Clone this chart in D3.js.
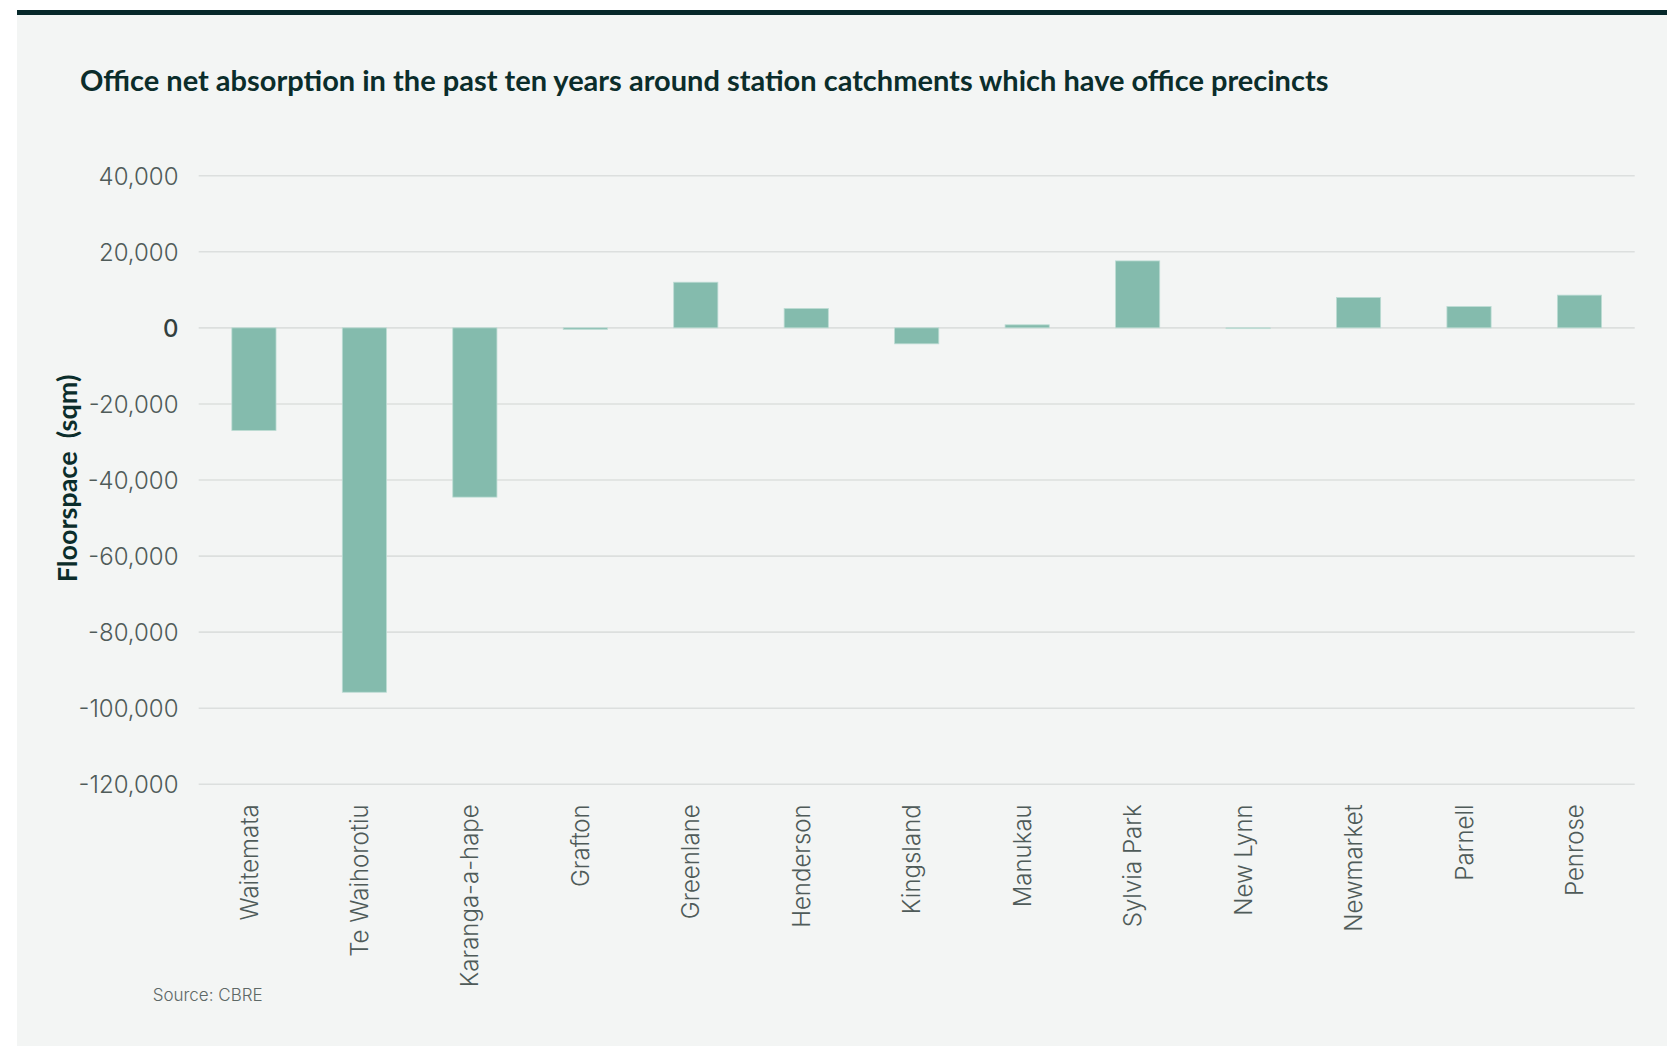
<!DOCTYPE html>
<html>
<head>
<meta charset="utf-8">
<script src="https://cdn.jsdelivr.net/npm/d3@7"></script>
<style>
  html, body { margin: 0; padding: 0; background: #ffffff; }
  svg { display: block; }
</style>
</head>
<body>
<svg id="chart" width="1667" height="1046"></svg>
<script>
// Station catchments and their ten-year office net absorption (sqm)
const stations = ["Waitemata", "Te Waihorotiu", "Karanga-a-hape", "Grafton", "Greenlane",
  "Henderson", "Kingsland", "Manukau", "Sylvia Park", "New Lynn", "Newmarket", "Parnell", "Penrose"];
const absorption = [-27000, -95800, -44500, -400, 12000, 5100, -4200, 800, 17600, -200, 8000, 5600, 8600];
const yTicks = [40000, 20000, 0, -20000, -40000, -60000, -80000, -100000, -120000];

const title = "Office net absorption in the past ten years around station catchments which have office precincts";
const yTitle = "Floorspace  (sqm)";
const source = "Source: CBRE";

const W = 1667, H = 1046;
const svg = d3.select("#chart");

// panel background and top rule
svg.append("rect").attr("x", 17).attr("y", 10).attr("width", W - 17).attr("height", H - 10)
  .attr("fill", "#f3f5f4");
svg.append("rect").attr("x", 17).attr("y", 10).attr("width", W - 17).attr("height", 5)
  .attr("fill", "#06282a");

const plot = { left: 198.7, right: 1634.7, top: 175.7, bottom: 784.3 };

const x = d3.scaleBand().domain(stations).range([plot.left, plot.right])
  .paddingInner(0.6).paddingOuter(0.3);
const y = d3.scaleLinear().domain([-120000, 40000]).range([plot.bottom, plot.top]);

// gridlines
svg.append("g").selectAll("line").data(yTicks).join("line")
  .attr("x1", plot.left).attr("x2", plot.right)
  .attr("y1", d => y(d)).attr("y2", d => y(d))
  .attr("stroke", "#dcdfde").attr("stroke-width", 1.6);

// y axis labels (plain hyphen for negatives)
const fmt = d3.format(",");
const yAxis = d3.axisLeft(y).tickValues(yTicks).tickSize(0).tickPadding(0)
  .tickFormat(d => fmt(d).replace("\u2212", "-"));
const gy = svg.append("g").attr("transform", `translate(178.5,0)`).call(yAxis);
gy.select(".domain").remove();
gy.selectAll("text")
  .attr("font-family", "Inter, 'Open Sans', sans-serif")
  .attr("font-size", 24)
  .attr("font-weight", d => d === 0 ? 500 : 300)
  .attr("fill", d => d === 0 ? "#33403e" : "#4f5b59")
  .attr("dy", "0.36em");

// bars
svg.append("g").selectAll("rect").data(stations).join("rect")
  .attr("x", d => x(d))
  .attr("width", x.bandwidth())
  .attr("y", (d, i) => y(Math.max(0, absorption[i])))
  .attr("height", (d, i) => Math.max(0.8, Math.abs(y(absorption[i]) - y(0))))
  .attr("fill", "#84bbad")
  .attr("stroke", "#bddcd4")
  .attr("stroke-width", 0.8);

// x axis labels, rotated
const xAxis = d3.axisBottom(x).tickSize(0).tickPadding(0);
const gx = svg.append("g").attr("transform", `translate(0,${plot.bottom + 20})`).call(xAxis);
gx.select(".domain").remove();
gx.selectAll("text")
  .attr("font-family", "Inter, 'Open Sans', sans-serif")
  .attr("font-size", 24)
  .attr("font-weight", 300)
  .attr("fill", "#4f5b59")
  .attr("text-anchor", "end")
  .attr("transform", "rotate(-90)")
  .attr("x", 0).attr("y", 0).attr("dy", "0.15em");

// y axis title
svg.append("text")
  .attr("transform", "translate(67,478.5) rotate(-90)")
  .attr("text-anchor", "middle")
  .attr("dy", "0.36em")
  .attr("font-family", "Lato, 'Noto Sans', sans-serif")
  .attr("font-weight", 700)
  .attr("font-size", 27)
  .attr("fill", "#0b2d2b")
  .style("white-space", "pre")
  .text(yTitle);

// chart title, sized to its line width
const t = svg.append("text")
  .attr("x", 80).attr("y", 91)
  .attr("font-family", "Lato, 'Noto Sans', sans-serif")
  .attr("font-weight", 700)
  .attr("font-size", 25)
  .attr("fill", "#0b2d2b")
  .text(title);
const tw = t.node().getComputedTextLength();
t.attr("font-size", 25 * 1249 / tw);

// source note
svg.append("text")
  .attr("x", 152.7).attr("y", 1001)
  .attr("font-family", "Inter, 'Open Sans', sans-serif")
  .attr("font-weight", 300)
  .attr("font-size", 17)
  .attr("fill", "#5d6866")
  .text(source);
</script>
</body>
</html>
